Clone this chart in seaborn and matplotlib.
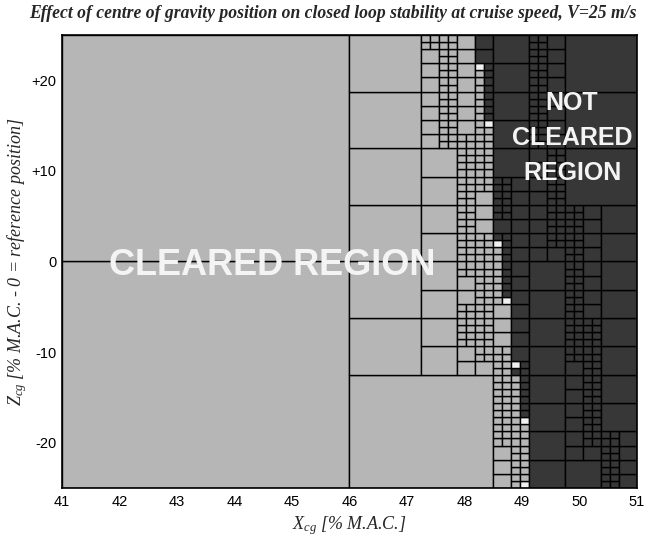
import numpy as np
import matplotlib
matplotlib.use("Agg")
import matplotlib.pyplot as plt
import seaborn as sns
from matplotlib.patches import Rectangle
from matplotlib.collections import PatchCollection

# ---------------- data ----------------
x_range = [41.0, 51.0]          # X_cg [% M.A.C.]
z_range = [-25.0, 25.0]         # Z_cg [% M.A.C.]
max_level = 6                   # deepest subdivision level

# cleared / not-cleared boundary (step curve, from top to bottom)
step_z = [21.48, 15.23, 1.95, -4.30, -11.33, -11.72, -12.50, -17.58, -24.61]
bound_x = [48.1875, 48.34375, 48.5, 48.65625, 48.8125, 48.96875,
           48.8125, 48.96875, 49.125, 48.96875]

# extra refinement traces (segments: top point -> bottom point)
ref_z_top = [25.0, 23.44, 14.0, 15.6, 8.6, 2.5, -4.8, -9.4, -17.6,
             25.0, 12.5, 4.7, -7.8, -18.8]
ref_z_bot = [23.44, 12.6, -1.5, 8.6, 4.7, -9.4, -7.9, -20.2, -25.0,
             12.6, 3.1, -9.4, -20.0, -25.0]
ref_x_top = [47.30, 47.72, 48.03, 48.35, 48.65, 48.35, 48.03, 48.65, 48.97,
             49.28, 49.60, 49.90, 50.20, 50.53]
ref_x_bot = [47.72, 47.72, 48.03, 48.35, 48.65, 48.35, 48.03, 48.65, 48.97,
             49.28, 49.60, 49.90, 50.20, 50.53]

x_ticks = [41, 42, 43, 44, 45, 46, 47, 48, 49, 50, 51]
z_ticks = [-20, -10, 0, 10, 20]
z_tick_labels = ["-20", "-10", "0", "+10", "+20"]

title = "Effect of centre of gravity position on closed loop stability at cruise speed, V=25 m/s"

# ---------------- styling ----------------
sns.set_theme(style="white")
plt.rcParams["font.family"] = ["Liberation Sans", "DejaVu Sans"]
plt.rcParams["mathtext.fontset"] = "custom"
plt.rcParams["mathtext.rm"] = "Liberation Serif"
plt.rcParams["mathtext.it"] = "Liberation Serif:italic"

c_clear = "#b6b6b6"
c_not = "#373737"
c_undet = "#f0f0f0"

# ---------------- adaptive subdivision ----------------
dx6 = (x_range[1] - x_range[0]) / 2 ** max_level
dz6 = (z_range[1] - z_range[0]) / 2 ** max_level
sz = -np.array(step_z)
bx = np.array(bound_x)


def boundary(z):
    return bx[np.searchsorted(sz, -np.asarray(z), side="left")]


def cleared_state(x0, x1, z0, z1):
    xs = np.arange(x0 + dx6 / 2, x1, dx6)
    zs = np.arange(z0 + dz6 / 4, z1, dz6 / 2)
    cl = xs[None, :] < boundary(zs)[:, None]
    return cl.any(), cl.all()


t = np.linspace(0, 1, 400)
seg = [(zt + (zb - zt) * t, xt + (xb - xt) * t)
       for zt, zb, xt, xb in zip(ref_z_top, ref_z_bot, ref_x_top, ref_x_bot)]


def crosses_ref(x0, x1, z0, z1):
    for zz, xx in seg:
        if np.any((xx > x0) & (xx < x1) & (zz > z0) & (zz < z1)):
            return True
    return False


cells = []


def refine(x0, x1, z0, z1, level):
    anyc, allc = cleared_state(x0, x1, z0, z1)
    mixed = anyc and not allc
    if level < max_level and (mixed or crosses_ref(x0, x1, z0, z1)):
        xm, zm = (x0 + x1) / 2, (z0 + z1) / 2
        for a, b in ((x0, xm), (xm, x1)):
            for c, d in ((z0, zm), (zm, z1)):
                refine(a, b, c, d, level + 1)
    else:
        col = c_undet if mixed else (c_clear if allc else c_not)
        cells.append((x0, z0, x1 - x0, z1 - z0, col))


refine(x_range[0], x_range[1], z_range[0], z_range[1], 0)

# ---------------- figure ----------------
fig = plt.figure(figsize=(6.66, 5.41), dpi=100)
ax = fig.add_axes([62 / 666, 1 - 488 / 541, 575 / 666, 453 / 541])

patches = [Rectangle((x, z), w, h) for x, z, w, h, _ in cells]
pc = PatchCollection(patches, facecolor=[c[4] for c in cells],
                     edgecolor="black", linewidth=1.0)
ax.add_collection(pc)

ax.set_xlim(x_range)
ax.set_ylim(z_range)
ax.set_xticks(x_ticks)
ax.set_xticklabels([str(v) for v in x_ticks])
ax.set_yticks(z_ticks)
ax.set_yticklabels(z_tick_labels)
ax.tick_params(axis="both", length=0, labelsize=10.5, colors="black")
ax.tick_params(axis="y", pad=4)
ax.tick_params(axis="x", pad=5)
for s in ax.spines.values():
    s.set_color("black")
    s.set_linewidth(1.2)

ax.text(44.66, -0.4, "CLEARED REGION", color="#f4f4f4", fontsize=26,
        fontweight="bold", ha="center", va="center")
ax.text(49.87, 13.6, "NOT\nCLEARED\nREGION", color="#f4f4f4", fontsize=18,
        fontweight="bold", ha="center", va="center", linespacing=1.58,
        multialignment="center")

ax.set_xlabel(r"$X_{cg}$ [% M.A.C.]", fontsize=13, family="Liberation Serif",
              style="italic", labelpad=4)
ax.set_ylabel(r"$Z_{cg}$ [% M.A.C. - 0 = reference position]", fontsize=13,
              family="Liberation Serif", style="italic", labelpad=2)

fig.text(0.5, 1 - 14 / 541, title, ha="center", va="center", fontsize=12.7,
         family="Liberation Serif", style="italic", fontweight="bold")

fig.savefig("out.png", dpi=100)
